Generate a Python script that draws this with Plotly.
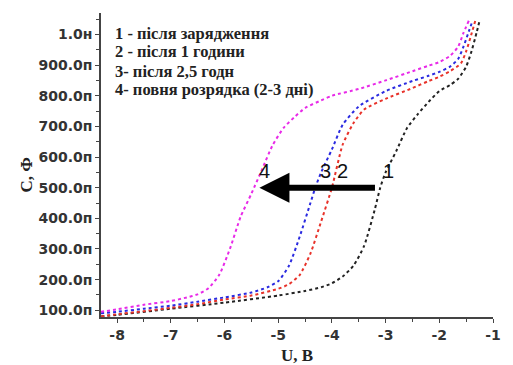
import plotly.graph_objects as go

# --- data ---
u1 = [-8.3, -8.0, -7.0, -6.0, -5.0, -4.5, -4.2, -4.0, -3.8, -3.6, -3.4, -3.2, -3.1, -3.0, -2.8, -2.6, -2.4, -2.2, -2.0, -1.8, -1.65, -1.5, -1.4, -1.3, -1.25]
c1 = [80, 85, 105, 125, 148, 163, 175, 188, 210, 245, 310, 430, 500, 550, 620, 695, 740, 780, 815, 835, 855, 895, 945, 1010, 1045]

u2 = [-8.3, -8.0, -7.5, -7.0, -6.5, -6.0, -5.5, -5.0, -4.8, -4.6, -4.4, -4.2, -4.0, -3.8, -3.6, -3.4, -3.0, -2.5, -2.2, -2.0, -1.8, -1.6, -1.5, -1.42, -1.33]
c2 = [80, 87, 97, 108, 120, 135, 148, 170, 185, 215, 285, 390, 500, 640, 710, 755, 790, 825, 848, 862, 880, 905, 945, 990, 1045]

u3 = [-8.3, -8.0, -7.5, -7.0, -6.5, -6.0, -5.5, -5.2, -5.0, -4.8, -4.6, -4.4, -4.3, -4.2, -4.0, -3.8, -3.5, -3.0, -2.5, -2.2, -2.0, -1.8, -1.65, -1.55, -1.45, -1.38]
c3 = [90, 95, 105, 115, 128, 142, 158, 175, 195, 245, 340, 450, 505, 550, 625, 705, 765, 815, 848, 865, 878, 895, 920, 960, 1010, 1045]

u4 = [-8.3, -8.0, -7.5, -7.0, -6.7, -6.5, -6.3, -6.1, -5.9, -5.7, -5.5, -5.3, -5.1, -4.9, -4.7, -4.5, -4.2, -4.0, -3.5, -3.0, -2.5, -2.2, -2.0, -1.8, -1.65, -1.55, -1.45]
c4 = [95, 103, 118, 130, 142, 152, 172, 215, 300, 405, 480, 560, 640, 695, 730, 760, 785, 800, 822, 850, 880, 898, 910, 930, 960, 1005, 1045]

ytick_vals = [100, 200, 300, 400, 500, 600, 700, 800, 900, 1000]
ytick_text = ["100.0п", "200.0п", "300.0п", "400.0п", "500.0п", "600.0п", "700.0п", "800.0п", "900.0п", "1.0н"]
xtick_vals = [-8, -7, -6, -5, -4, -3, -2, -1]
xtick_text = ["-8", "-7", "-6", "-5", "-4", "-3", "-2", "-1"]

legend_lines = ["1 - після зарядження", "2 - після 1 години", "3- після 2,5 годн", "4- повня розрядка (2-3 дні)"]
legend_y = [1003, 944, 880, 821]

labels = ["1", "2", "3", "4"]
label_x = [-2.94, -3.81, -4.12, -5.26]
label_y = 555

series = [(u1, c1, "#222222"), (u2, c2, "#e8322a"), (u3, c3, "#2a2ae0"), (u4, c4, "#e82ae8")]

fig = go.Figure()
for u, c, col in series:
    fig.add_trace(go.Scatter(x=u, y=c, mode="lines",
                             line=dict(color=col, width=2, dash="dot", shape="spline", smoothing=0.6),
                             showlegend=False, hoverinfo="skip"))

tickfont = dict(family="DejaVu Sans", size=14, color="#333333")
fig.update_layout(
    width=513, height=365,
    margin=dict(l=101, r=12, t=13, b=48),
    paper_bgcolor="white", plot_bgcolor="white",
    xaxis=dict(range=[-8.3, -1.0], tickvals=xtick_vals, ticktext=["<b>" + t + "</b>" for t in xtick_text],
               ticks="outside", ticklen=4,
               showgrid=False, zeroline=False, showline=True, linecolor="#444", linewidth=1.5,
               tickcolor="#444", tickfont=tickfont,
               minor=dict(dtick=0.5, ticks="outside", ticklen=3, tickcolor="#444")),
    yaxis=dict(range=[78, 1070], tickvals=ytick_vals, ticktext=["<b>" + t + "</b>" for t in ytick_text],
               ticks="outside", ticklen=4,
               showgrid=False, zeroline=False, showline=True, linecolor="#444", linewidth=1.5,
               tickcolor="#444", tickfont=tickfont,
               minor=dict(dtick=50, ticks="outside", ticklen=3, tickcolor="#444")),
)

for t, yy in zip(legend_lines, legend_y):
    fig.add_annotation(x=-8.07, y=yy, text="<b>" + t + "</b>", showarrow=False, xanchor="left",
                       yanchor="middle", font=dict(family="Liberation Serif, Times New Roman", size=16.5, color="#222"))

for t, xx in zip(labels, label_x):
    fig.add_annotation(x=xx, y=label_y, text=t, showarrow=False,
                       font=dict(family="Liberation Sans, Arial", size=20, color="#111"))

fig.add_annotation(x=-5.35, y=500, ax=-3.17, ay=500, axref="x", ayref="y", xref="x", yref="y",
                   text="", showarrow=True, arrowhead=2, arrowsize=1, arrowwidth=6, arrowcolor="black")

fig.add_annotation(xref="paper", yref="paper", x=-0.1925, y=0.467, text="<b>C, Ф</b>", textangle=-90,
                   xanchor="center", yanchor="middle",
                   showarrow=False, font=dict(family="Liberation Serif, Times New Roman", size=17, color="#222"))
fig.add_annotation(xref="paper", yref="paper", x=0.5, y=-0.128, text="<b>U, B</b>", xanchor="center",
                   yanchor="middle",
                   showarrow=False, font=dict(family="Liberation Serif, Times New Roman", size=17, color="#222"))

fig.write_html("out.html", config={"displayModeBar": False},
               post_script="document.body.style.margin='0';document.body.style.overflow='hidden';")
